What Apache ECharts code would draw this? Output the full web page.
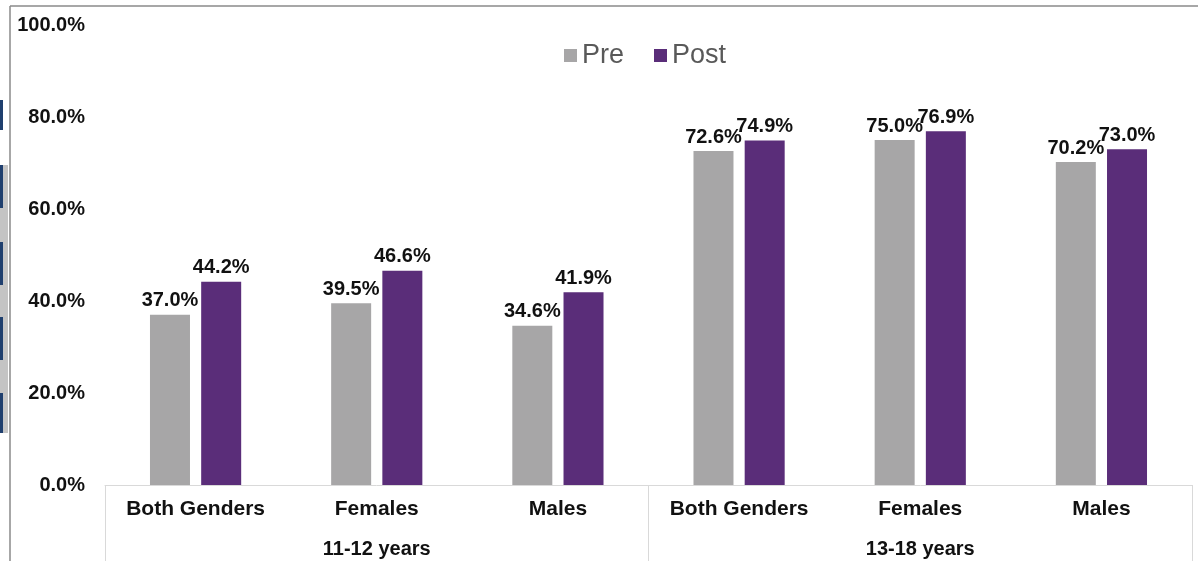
<!DOCTYPE html>
<html>
<head>
<meta charset="utf-8">
<script src="https://cdn.jsdelivr.net/npm/echarts@6/dist/echarts.min.js"></script>
<style>html,body{margin:0;padding:0;background:#fff;}#c{width:1198px;height:561px;}</style>
</head>
<body>
<div id="c"></div>
<script>
const categories = ['Both Genders','Females','Males','Both Genders','Females','Males'];
const groups = ['11-12 years','13-18 years'];
const preValues = [37.0, 39.5, 34.6, 72.6, 75.0, 70.2];
const postValues = [44.2, 46.6, 41.9, 74.9, 76.9, 73.0];
const seriesNames = ['Pre','Post'];

const FONT = 'Liberation Sans, Arial, sans-serif';
const chart = echarts.init(document.getElementById('c'));
const labelStyle = {
  show: true, position: 'top', distance: 4,
  formatter: p => p.value.toFixed(1) + '%',
  fontFamily: FONT, fontWeight: 'bold', fontSize: 20, color: '#111'
};
chart.setOption({
  animation: false,
  backgroundColor: '#fff',
  grid: { left: 105, right: 6, top: 25, bottom: 76 },
  legend: {
    data: seriesNames, top: 37, left: 559,
    icon: 'rect', itemWidth: 13, itemHeight: 13, itemGap: 30,
    textStyle: { fontFamily: FONT, fontSize: 27, color: '#595959' }
  },
  xAxis: [
    {
      type: 'category', data: categories, position: 'bottom',
      axisLine: { show: true, lineStyle: { color: '#d9d9d9', width: 1 } },
      axisTick: { show: false },
      axisLabel: { margin: 14, fontFamily: FONT, fontWeight: 'bold', fontSize: 21, color: '#111' }
    },
    {
      type: 'category', data: groups, position: 'bottom',
      axisLine: { show: false },
      axisTick: { show: true, length: 80, lineStyle: { color: '#d9d9d9', width: 1 } },
      axisLabel: { margin: 54, fontFamily: FONT, fontWeight: 'bold', fontSize: 20, color: '#111' }
    }
  ],
  yAxis: {
    type: 'value', min: 0, max: 100, interval: 20,
    axisLine: { show: false }, axisTick: { show: false }, splitLine: { show: false },
    axisLabel: { margin: 20, formatter: v => v.toFixed(1) + '%', fontFamily: FONT, fontWeight: 'bold', fontSize: 20, color: '#111' }
  },
  series: [
    { name: seriesNames[0], type: 'bar', data: preValues, barWidth: 40, barGap: '28%',
      itemStyle: { color: '#A7A6A7' }, label: labelStyle },
    { name: seriesNames[1], type: 'bar', data: postValues, barWidth: 40, barGap: '28%',
      itemStyle: { color: '#5A2D79' }, label: labelStyle }
  ],
  graphic: [
    { type: 'line', shape: { x1: 10, y1: 6, x2: 1198, y2: 6 }, style: { stroke: '#8a8a8a', lineWidth: 1.5 } },
    { type: 'line', shape: { x1: 10, y1: 6, x2: 10, y2: 561 }, style: { stroke: '#8a8a8a', lineWidth: 1.5 } },
    { type: 'rect', shape: { x: 0, y: 165, width: 8, height: 268 }, style: { fill: '#c4c4c4' } },
    { type: 'rect', shape: { x: 0, y: 100, width: 3, height: 30 }, style: { fill: '#1f3f6e' } },
    { type: 'rect', shape: { x: 0, y: 165, width: 3, height: 43 }, style: { fill: '#1f3f6e' } },
    { type: 'rect', shape: { x: 0, y: 242, width: 3, height: 43 }, style: { fill: '#1f3f6e' } },
    { type: 'rect', shape: { x: 0, y: 317, width: 3, height: 43 }, style: { fill: '#1f3f6e' } },
    { type: 'rect', shape: { x: 0, y: 393, width: 3, height: 40 }, style: { fill: '#1f3f6e' } }
  ]
});
</script>
</body>
</html>
